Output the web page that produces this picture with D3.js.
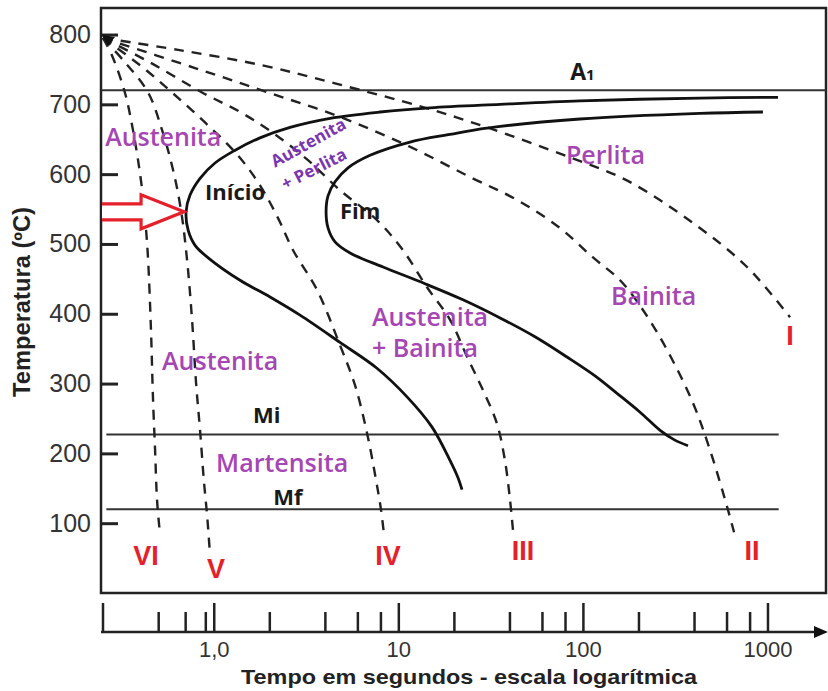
<!DOCTYPE html>
<html>
<head>
<meta charset="utf-8">
<script src="https://cdn.jsdelivr.net/npm/d3@7"></script>
<style>
  body { margin: 0; background: #fff; }
  svg { display: block; }
</style>
</head>
<body>
<svg width="828" height="691"></svg>
<script>
// tick values
const yTicks = [100, 200, 300, 400, 500, 600, 700, 800];
const xMajor = [1, 10, 100, 1000];
const xMajorLabels = ["1,0", "10", "100", "1000"];
const xMinor = [0.5, 0.7, 0.9, 2, 4, 6, 8, 20, 40, 60, 80, 200, 400, 600, 800];

// C curves, [tempo (s), temperatura (ºC)]
const inicio = [[1140, 710], [431, 709], [96.4, 705], [35.6, 700], [14.85, 695], [7.96, 689],
  [4.27, 680], [2.59, 667], [1.78, 652], [1.3, 634], [1.016, 616], [0.843, 594], [0.744, 570],
  [0.708, 546], [0.726, 520], [0.792, 498], [0.955, 478], [1.388, 448], [2.018, 424], [2.935, 398],
  [4.83, 359], [7.66, 322], [11.15, 281], [15.2, 238], [19.05, 190], [21.06, 165], [22.13, 148]];
const fim = [[945, 689], [431, 687], [96.4, 679], [30.2, 666], [19.05, 657], [11.57, 646], [7.03, 627],
  [5.34, 609], [4.54, 589], [4.16, 569], [4.06, 546], [4.16, 523], [4.54, 503], [5.48, 487],
  [8.26, 467], [13.95, 443], [22.4, 420], [35.6, 394], [55, 367], [82, 338], [116.3, 311],
  [153, 286], [204, 259], [262, 233], [315, 219], [371, 211]];

// curvas de resfriamento I..VI
const curveI = [[0.251, 795], [0.641, 778], [1.83, 756], [4.54, 730], [13.6, 696], [30.2, 667],
  [85, 624], [173, 591], [395, 530], [775, 467], [1325, 395]];
const curveII = [[0.251, 795], [0.792, 752], [1.97, 717], [4.83, 682], [11.6, 639], [24.4, 596],
  [44, 563], [75, 523], [113, 481], [159, 448], [212, 405], [286, 348], [395, 272], [488, 205],
  [611, 119], [659, 87]];
const curveIII = [[0.251, 795], [0.452, 760], [0.864, 717], [1.39, 689], [2.07, 660], [3.24, 620],
  [4.83, 577], [7.67, 534], [10.6, 491], [14.3, 438], [19.1, 391], [23.6, 338], [28.7, 291],
  [34.2, 243], [37.8, 190], [40.3, 133], [41.8, 90]];
const curveIV = [[0.251, 795], [0.399, 756], [0.594, 717], [0.897, 674], [1.35, 627], [1.78, 584],
  [2.23, 537], [2.69, 491], [3.63, 434], [4.83, 355], [5.82, 298], [6.77, 229], [7.57, 162],
  [8.06, 119], [8.37, 83]];
const curveV = [[0.251, 795], [0.331, 760], [0.441, 717], [0.525, 663], [0.602, 606], [0.665, 548],
  [0.717, 477], [0.763, 391], [0.802, 301], [0.843, 233], [0.886, 158], [0.92, 112], [0.955, 54]];
const curveVI = [[0.251, 795], [0.281, 770], [0.33, 717], [0.361, 670], [0.389, 620], [0.414, 567],
  [0.43, 520], [0.441, 477], [0.457, 377], [0.469, 276], [0.481, 205], [0.493, 133], [0.512, 83]];
const coolingCurves = [curveI, curveII, curveIII, curveIV, curveV, curveVI];
const coolingNames = ["I", "II", "III", "IV", "V", "VI"];
const coolingLabelPos = [[1325, 355], [824, 47], [47.4, 47], [8.78, 40], [1.03, 21], [0.43, 40]];

// linhas horizontais
const isoNames = ["A1", "Mi", "Mf"];
const isoTemps = [720, 227, 120];
const isoRange = [[0.245, 2075], [0.262, 1150], [0.262, 1150]];

// rótulos das regiões
const phaseLabels = ["Austenita", "Austenita", "Austenita", "+ Bainita", "Perlita", "Bainita", "Martensita"];
const phasePos = [[0.258, 640], [0.525, 319], [7.2, 382], [7.2, 338], [81, 614], [142, 412], [1.03, 173]];
const blackLabels = ["Início", "Fim", "Mi", "Mf"];
const blackPos = [[0.897, 563], [4.83, 536], [1.63, 243], [2.1, 126]];

let svg = d3.select("svg"),
    width = +svg.attr("width"),
    height = +svg.attr("height");

const x = d3.scaleLog().domain([0.245, 2075]).range([101, 826]);
const y = d3.scaleLinear().domain([0, 838]).range([593, 8]);

const purple = "#a546b4";
const red = "#e5202a";

// moldura
svg.append("rect")
    .attr("x", 101).attr("y", 8)
    .attr("width", 725).attr("height", 585)
    .attr("fill", "none")
    .attr("stroke", "#222")
    .attr("stroke-width", 2.5);

// eixo y
let yAxis = svg.append("g")
    .attr("transform", "translate(101,0)")
    .call(d3.axisLeft(y).tickValues(yTicks).tickSize(-17).tickPadding(10));
yAxis.select(".domain").remove();
yAxis.selectAll("line").attr("stroke", "#222").attr("stroke-width", 3);
yAxis.selectAll("text")
    .style("font-family", "'Liberation Sans Narrow', 'Arial Narrow', sans-serif")
    .style("font-size", "25px")
    .attr("fill", "#333");

svg.append("text")
    .attr("transform", "translate(30,302) rotate(-90)")
    .attr("text-anchor", "middle")
    .attr("textLength", 190)
    .attr("lengthAdjust", "spacingAndGlyphs")
    .style("font-family", "'Liberation Sans Narrow', 'Arial Narrow', sans-serif")
    .style("font-weight", "bold")
    .style("font-size", "23px")
    .attr("fill", "#222")
    .text("Temperatura (ºC)");

// eixo x (separado, abaixo da moldura)
const axisY = 632;
let xAxisMajor = svg.append("g")
    .attr("transform", `translate(0,${axisY})`)
    .call(d3.axisBottom(x).tickValues(xMajor).tickSize(-29).tickPadding(9)
        .tickFormat((d, i) => xMajorLabels[i]));
xAxisMajor.select(".domain").remove();
xAxisMajor.selectAll("line").attr("stroke", "#222").attr("stroke-width", 2.5);
xAxisMajor.selectAll("text")
    .style("font-family", "'Liberation Sans Narrow', 'Arial Narrow', sans-serif")
    .style("font-size", "22px")
    .attr("fill", "#333");

let xAxisMinor = svg.append("g")
    .attr("transform", `translate(0,${axisY})`)
    .call(d3.axisBottom(x).tickValues(xMinor).tickSize(-20).tickFormat(""));
xAxisMinor.select(".domain").remove();
xAxisMinor.selectAll("line").attr("stroke", "#222").attr("stroke-width", 2.5);

svg.append("line")
    .attr("x1", x(x.domain()[0]) + 2).attr("x2", x(x.domain()[0]) + 2)
    .attr("y1", axisY - 29).attr("y2", axisY)
    .attr("stroke", "#222").attr("stroke-width", 2.5);
svg.append("line")
    .attr("x1", 101).attr("x2", 816)
    .attr("y1", axisY).attr("y2", axisY)
    .attr("stroke", "#222").attr("stroke-width", 2.5);
svg.append("path")
    .attr("d", `M814,${axisY - 6} L828,${axisY} L814,${axisY + 6} Z`)
    .attr("fill", "#111");

svg.append("text")
    .attr("x", 469).attr("y", 684)
    .attr("text-anchor", "middle")
    .attr("textLength", 456)
    .attr("lengthAdjust", "spacingAndGlyphs")
    .style("font-family", "'Liberation Sans Narrow', 'Arial Narrow', sans-serif")
    .style("font-weight", "bold")
    .style("font-size", "21px")
    .attr("fill", "#222")
    .text("Tempo em segundos - escala logarítmica");

// linhas A1, Mi, Mf
isoTemps.forEach((T, i) => {
    svg.append("line")
        .attr("x1", x(isoRange[i][0])).attr("x2", x(isoRange[i][1]))
        .attr("y1", y(T)).attr("y2", y(T))
        .attr("stroke", "#333")
        .attr("stroke-width", 2);
});

// curvas de resfriamento (tracejadas)
let line = d3.line()
    .x(d => x(d[0]))
    .y(d => y(d[1]))
    .curve(d3.curveCatmullRom.alpha(0.5));

coolingCurves.forEach(c => {
    svg.append("path")
        .attr("d", line(c))
        .attr("fill", "none")
        .attr("stroke", "#222")
        .attr("stroke-width", 2.4)
        .attr("stroke-dasharray", "10,8");
});

// seta no ponto de partida
let o = [x(curveI[0][0]), y(curveI[0][1])];
svg.append("path")
    .attr("d", `M${o[0] - 1},${o[1] - 3} L${o[0] + 12},${o[1] - 1} L${o[0] + 5},${o[1] + 8} Z`)
    .attr("fill", "#111");

// curvas C
[inicio, fim].forEach(c => {
    svg.append("path")
        .attr("d", line(c))
        .attr("fill", "none")
        .attr("stroke", "#111")
        .attr("stroke-width", 2.8);
});

// seta vermelha no nariz
let nose = [x(0.708), y(546)];
let x0 = x(x.domain()[0]) + 1;
svg.append("path")
    .attr("d", `M${x0},${nose[1] - 8} L${nose[0] - 45},${nose[1] - 8} L${nose[0] - 45},${nose[1] - 17}
        L${nose[0] - 2},${nose[1]} L${nose[0] - 45},${nose[1] + 17} L${nose[0] - 45},${nose[1] + 8}
        L${x0},${nose[1] + 8}`)
    .attr("fill", "#fff")
    .attr("stroke", red)
    .attr("stroke-width", 3.2);

// rótulos de fase
phaseLabels.forEach((t, i) => {
    svg.append("text")
        .attr("x", x(phasePos[i][0]))
        .attr("y", y(phasePos[i][1]))
        .style("font-family", "'Open Sans', 'DejaVu Sans', sans-serif")
        .style("font-weight", 600)
        .style("font-size", "25px")
        .attr("fill", purple)
        .text(t);
});

let ap = svg.append("g")
    .style("font-family", "'Open Sans', 'DejaVu Sans', sans-serif")
    .style("font-weight", 700)
    .style("font-size", "17px")
    .attr("fill", "#7a36b0");
ap.append("text")
    .attr("transform", `translate(${x(2.15)},${y(609)}) rotate(-29)`)
    .text("Austenita");
ap.append("text")
    .attr("transform", `translate(${x(2.44)},${y(577)}) rotate(-27)`)
    .text("+ Perlita");

blackLabels.forEach((t, i) => {
    svg.append("text")
        .attr("x", x(blackPos[i][0]))
        .attr("y", y(blackPos[i][1]))
        .style("font-family", "'Open Sans', 'DejaVu Sans', sans-serif")
        .style("font-weight", 700)
        .style("font-size", "22px")
        .attr("fill", "#1a1a1a")
        .text(t);
});

let a1 = svg.append("text")
    .attr("x", x(85.3))
    .attr("y", y(735))
    .style("font-family", "'Open Sans', 'DejaVu Sans', sans-serif")
    .style("font-weight", 700)
    .attr("fill", "#1a1a1a");
a1.append("tspan").style("font-size", "23px").text("A");
a1.append("tspan").style("font-size", "15px").text("1");

// algarismos romanos
coolingNames.forEach((n, i) => {
    svg.append("text")
        .attr("x", x(coolingLabelPos[i][0]))
        .attr("y", y(coolingLabelPos[i][1]))
        .attr("text-anchor", "middle")
        .style("font-family", "'Liberation Sans Narrow', 'Arial Narrow', sans-serif")
        .style("font-weight", "bold")
        .style("font-size", "27px")
        .attr("fill", red)
        .text(n);
});
</script>
</body>
</html>
